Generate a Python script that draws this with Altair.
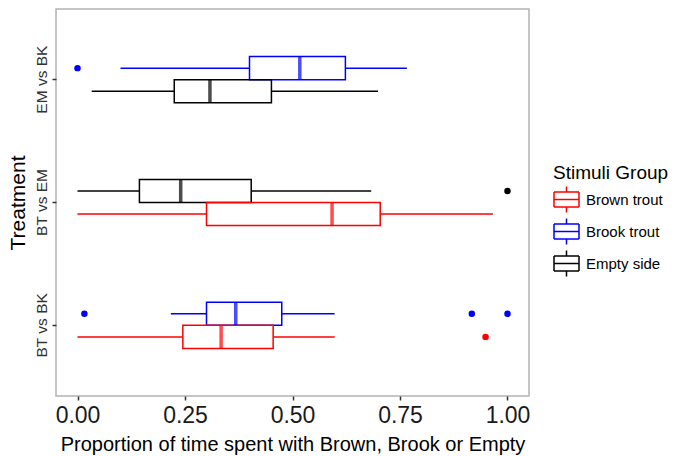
import altair as alt
import pandas as pd

# ---- data ----
treatments = ["EM vs BK", "EM vs BK", "BT vs EM", "BT vs EM", "BT vs BK", "BT vs BK"]
groups = ["Brook trout", "Empty side", "Empty side", "Brown trout", "Brook trout", "Brown trout"]
whisk_low = [0.10, 0.033, 0.0, 0.0, 0.217, 0.0]
q1 = [0.40, 0.225, 0.144, 0.300, 0.300, 0.245]
median = [0.517, 0.308, 0.240, 0.592, 0.368, 0.334]
q3 = [0.623, 0.451, 0.404, 0.704, 0.475, 0.455]
whisk_high = [0.766, 0.699, 0.683, 0.966, 0.598, 0.598]

out_treat = ["EM vs BK", "BT vs EM", "BT vs BK", "BT vs BK", "BT vs BK", "BT vs BK"]
out_group = ["Brook trout", "Empty side", "Brook trout", "Brook trout", "Brook trout", "Brown trout"]
out_value = [0.0, 1.0, 0.016, 0.917, 1.0, 0.949]

treat_order = ["EM vs BK", "BT vs EM", "BT vs BK"]
group_order = ["Brown trout", "Brook trout", "Empty side"]
group_colors = ["#FF0000", "#0000FF", "#000000"]
x_ticks = [0.0, 0.25, 0.5, 0.75, 1.0]

# dodge slot: first listed group of a treatment sits on top
slot = []
seen = {}
for t in treatments:
    slot.append("upper" if t not in seen else "lower")
    seen[t] = True
slot_of = {(t, g): s for t, g, s in zip(treatments, groups, slot)}

boxes = pd.DataFrame({
    "Treatment": treatments, "Group": groups, "GroupFill": groups, "slot": slot,
    "lo": whisk_low, "q1": q1, "med": median, "q3": q3, "hi": whisk_high,
})
outs = pd.DataFrame({
    "Treatment": out_treat, "GroupFill": out_group, "value": out_value,
    "slot": [slot_of[(t, g)] for t, g in zip(out_treat, out_group)],
})

FONT = "Liberation Sans"
# boxplot glyph drawn as separate line segments so it has no fillable area
legend_path = ("M-1,-0.6L1,-0.6 M1,-0.6L1,0.6 M1,0.6L-1,0.6 M-1,0.6L-1,-0.6 "
               "M-1,0L1,0 M0,-0.6L0,-1.04 M0,0.6L0,1.04")

xscale = alt.Scale(domain=[-0.05, 1.05], nice=False, zero=False)
yenc = alt.Y("Treatment:N", sort=treat_order,
             scale=alt.Scale(paddingInner=0.625, paddingOuter=0.3875),
             axis=alt.Axis(title="Treatment", labelAngle=270, labelAlign="center",
                           labelBaseline="bottom", labelFontSize=15.5,
                           labelColor="#333333", labelPadding=3,
                           titleFontSize=21, titlePadding=6))
yoff = alt.YOffset("slot:N", sort=["upper", "lower"],
                   scale=alt.Scale(domain=["upper", "lower"], paddingInner=0, paddingOuter=0))
cscale = alt.Scale(domain=group_order, range=group_colors)

xaxis = alt.Axis(title="Proportion of time spent with Brown, Brook or Empty",
                 values=x_ticks, format=".2f", labelFontSize=23,
                 labelColor="#1a1a1a", labelPadding=4, titleFontSize=20,
                 titlePadding=7)

legend = alt.Legend(
    title="Stimuli Group", symbolType=legend_path, symbolSize=625,
    symbolStrokeWidth=1.5, symbolFillColor="transparent",
    labelFontSize=15, titleFontSize=19,
    titleFontWeight="normal", labelColor="#000000", titleColor="#000000",
    labelOffset=6, titlePadding=3, rowPadding=-1,
    orient="none", legendX=497, legendY=155,
)

box = alt.Chart(boxes).mark_bar(filled=False, strokeWidth=1.5).encode(
    x=alt.X("q1:Q", scale=xscale, axis=xaxis),
    x2="q3:Q",
    y=yenc, yOffset=yoff,
    stroke=alt.Stroke("Group:N", scale=cscale, sort=group_order, legend=legend),
)
wl = alt.Chart(boxes).mark_rule(strokeWidth=1.5).encode(
    x=alt.X("lo:Q", scale=xscale, axis=xaxis), x2="q1:Q", y=yenc, yOffset=yoff,
    stroke=alt.Stroke("Group:N", scale=cscale, sort=group_order, legend=legend),
)
wh = alt.Chart(boxes).mark_rule(strokeWidth=1.5).encode(
    x=alt.X("q3:Q", scale=xscale, axis=xaxis), x2="hi:Q", y=yenc, yOffset=yoff,
    stroke=alt.Stroke("Group:N", scale=cscale, sort=group_order, legend=legend),
)
med = alt.Chart(boxes).mark_tick(thickness=3.5, size=23, orient="vertical").encode(
    x=alt.X("med:Q", scale=xscale, axis=xaxis), y=yenc, yOffset=yoff,
    fill=alt.Fill("GroupFill:N", scale=cscale, sort=group_order, legend=None),
)
pts = alt.Chart(outs).mark_circle(size=42, opacity=1).encode(
    x=alt.X("value:Q", scale=xscale, axis=xaxis), y=yenc, yOffset=yoff,
    fill=alt.Fill("GroupFill:N", scale=cscale, sort=group_order, legend=None),
)

chart = (
    alt.layer(box, wl, wh, med, pts)
    .properties(
        width=473, height=387,
        autosize=alt.AutoSizeParams(type="none"),
        padding={"left": 56, "top": 9, "right": 146, "bottom": 60},
    )
    .configure(font=FONT, background="white")
    .configure_view(stroke="#b3b3b3", strokeWidth=1.5)
    .configure_axis(domain=False, grid=False, tickSize=4, tickWidth=1.5,
                    tickColor="#333333", titleFontWeight="normal", titleColor="#000000")
    .configure_legend(symbolFillColor="transparent")
)

chart.save("out.html", embed_options={"renderer": "svg", "actions": False})
